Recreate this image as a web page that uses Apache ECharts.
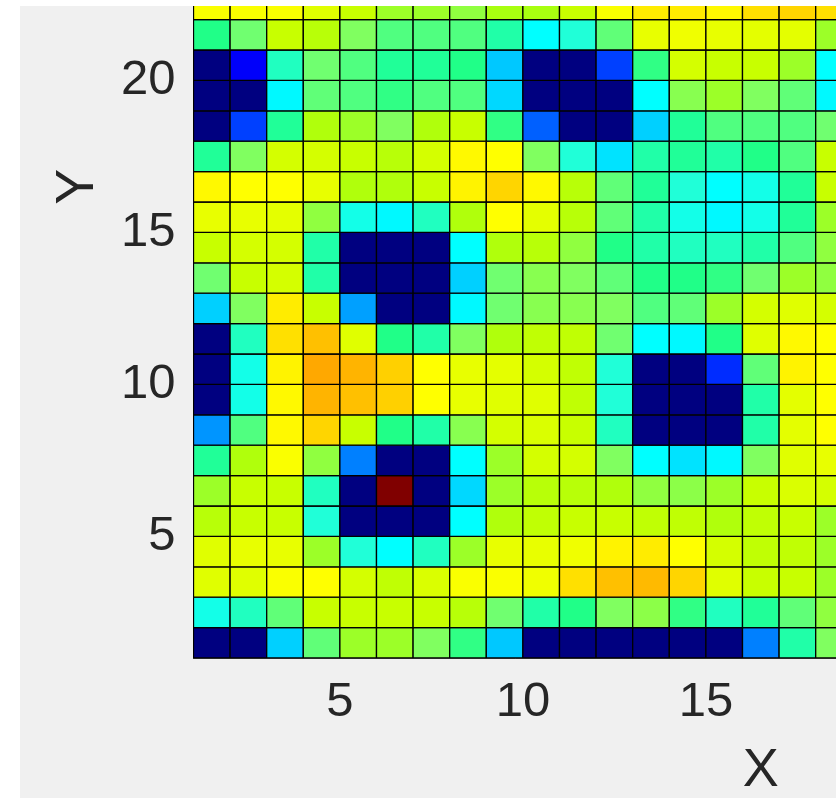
<!DOCTYPE html>
<html>
<head>
<meta charset="utf-8">
<script src="https://cdn.jsdelivr.net/npm/echarts@6/dist/echarts.min.js"></script>
<style>html,body{margin:0;padding:0;background:#fff}#c{width:836px;height:801px}</style>
</head>
<body>
<div id="c"></div>
<script>
// Column lower-left x vertices and row lower-left y vertices (pcolor style)
const xCells = [1,2,3,4,5,6,7,8,9,10,11,12,13,14,15,16,17,18];
const xTicks = [5, 10, 15];
const yTicks = [5, 10, 15, 20];
// colour values (jet-like scale 0..1), one array per row, columns 1..18
const row01 = [0,0,0.33,0.48,0.54,0.54,0.51,0.45,0.32,0,0,0,0,0,0,0.25,0.42,0.51];
const row02 = [0.39,0.41,0.48,0.57,0.57,0.57,0.57,0.56,0.49,0.42,0.44,0.51,0.525,0.45,0.41,0.43,0.48,0.53];
const row03 = [0.59,0.59,0.62,0.625,0.58,0.565,0.585,0.62,0.62,0.61,0.65,0.68,0.685,0.66,0.59,0.57,0.57,0.54];
const row04 = [0.59,0.60,0.60,0.54,0.40,0.375,0.41,0.54,0.60,0.60,0.61,0.635,0.64,0.625,0.58,0.565,0.565,0.54];
const row05 = [0.56,0.57,0.57,0.40,0,0,0,0.375,0.555,0.565,0.57,0.57,0.565,0.565,0.555,0.565,0.57,0.54];
const row06 = [0.54,0.57,0.57,0.41,0,1,0,0.34,0.54,0.56,0.56,0.555,0.53,0.525,0.54,0.57,0.585,0.58];
const row07 = [0.43,0.555,0.62,0.53,0.25,0,0,0.375,0.54,0.58,0.58,0.51,0.375,0.35,0.37,0.51,0.59,0.60];
const row08 = [0.27,0.47,0.63,0.66,0.57,0.44,0.42,0.52,0.58,0.585,0.57,0.41,0,0,0,0.42,0.595,0.625];
const row09 = [0,0.39,0.63,0.69,0.68,0.665,0.625,0.60,0.59,0.59,0.565,0.40,0,0,0,0.42,0.595,0.625];
const row10 = [0,0.39,0.635,0.70,0.69,0.665,0.625,0.60,0.595,0.58,0.565,0.40,0,0,0.17,0.48,0.635,0.625];
const row11 = [0,0.41,0.65,0.68,0.59,0.44,0.42,0.51,0.555,0.565,0.565,0.49,0.375,0.37,0.44,0.59,0.63,0.625];
const row12 = [0.33,0.51,0.64,0.57,0.28,0,0,0.37,0.49,0.52,0.52,0.51,0.47,0.48,0.54,0.58,0.59,0.58];
const row13 = [0.49,0.57,0.58,0.42,0,0,0,0.33,0.49,0.52,0.51,0.48,0.44,0.44,0.45,0.49,0.54,0.53];
const row14 = [0.57,0.58,0.58,0.42,0,0,0,0.375,0.555,0.56,0.53,0.44,0.42,0.41,0.41,0.42,0.47,0.53];
const row15 = [0.60,0.60,0.595,0.53,0.39,0.37,0.41,0.555,0.625,0.595,0.56,0.48,0.42,0.39,0.37,0.39,0.43,0.54];
const row16 = [0.63,0.625,0.625,0.60,0.555,0.555,0.57,0.635,0.66,0.63,0.56,0.48,0.43,0.40,0.375,0.39,0.43,0.57];
const row17 = [0.43,0.51,0.58,0.58,0.57,0.56,0.58,0.63,0.625,0.51,0.40,0.35,0.42,0.43,0.42,0.44,0.47,0.57];
const row18 = [0,0.19,0.43,0.555,0.54,0.51,0.555,0.57,0.45,0.22,0,0,0.33,0.43,0.47,0.47,0.47,0.49];
const row19 = [0,0,0.37,0.48,0.47,0.45,0.47,0.47,0.34,0,0,0,0.375,0.52,0.54,0.51,0.48,0.37];
const row20 = [0,0.12,0.41,0.49,0.47,0.43,0.43,0.44,0.32,0,0,0.19,0.45,0.58,0.57,0.57,0.54,0.375];
const row21 = [0.44,0.49,0.57,0.56,0.51,0.47,0.47,0.47,0.42,0.375,0.40,0.48,0.60,0.61,0.60,0.595,0.595,0.54];
const row22 = [0.62,0.62,0.62,0.59,0.57,0.54,0.54,0.53,0.55,0.55,0.57,0.62,0.64,0.64,0.63,0.65,0.66,0.65];

const rows = [row01,row02,row03,row04,row05,row06,row07,row08,row09,row10,row11,row12,row13,row14,row15,row16,row17,row18,row19,row20,row21,row22];
const data = [];
rows.forEach((r, i) => r.forEach((v, j) => data.push([xCells[j], i + 1, v])));

// jet-like colour scale as seen in the picture (stop position, rgb)
const cmapStops = [
  [0.00,[0,0,128]],[0.125,[0,0,255]],[0.19,[0,64,255]],[0.25,[0,128,255]],[0.28,[0,160,255]],
  [0.32,[0,200,255]],[0.34,[0,216,255]],[0.375,[0,255,255]],[0.40,[32,255,216]],[0.42,[32,255,168]],
  [0.44,[32,255,136]],[0.47,[80,255,128]],[0.49,[112,255,112]],[0.51,[128,255,96]],[0.53,[144,255,64]],
  [0.55,[168,255,16]],[0.57,[200,255,0]],[0.59,[224,255,0]],[0.61,[240,255,0]],[0.625,[255,255,0]],
  [0.65,[255,224,0]],[0.68,[255,192,0]],[0.70,[255,168,0]],[0.875,[255,0,0]],[1.0,[128,0,0]]
];
function cmapAt(t) {
  for (let k = 1; k < cmapStops.length; k++) {
    const a = cmapStops[k - 1], b = cmapStops[k];
    if (t <= b[0] + 1e-9) {
      const f = (t - a[0]) / (b[0] - a[0]);
      const c = a[1].map((v, n) => Math.round(v + (b[1][n] - v) * f));
      return 'rgb(' + c.join(',') + ')';
    }
  }
  return 'rgb(128,0,0)';
}
const palette = [];
for (let k = 0; k <= 200; k++) palette.push(cmapAt(k / 200));

const FONT = '"Liberation Sans", Arial, Helvetica, sans-serif';
const TXT = '#262626';

const chart = echarts.init(document.getElementById('c'), null, {renderer: 'canvas'});
chart.setOption({
  backgroundColor: '#ffffff',
  animation: false,
  graphic: [
    {type: 'rect', z: -10, shape: {x: 20, y: 6, width: 816, height: 792}, style: {fill: '#f0f0f0'}, silent: true},
    {type: 'rect', z: 100, zlevel: 1, shape: {x: 0, y: 0, width: 836, height: 6}, style: {fill: '#ffffff'}, silent: true}
  ],
  grid: {left: 193.5, top: 658 - 31 * 30.4, width: 31 * 36.6, height: 31 * 30.4, containLabel: false, outerBoundsMode: 'none'},
  visualMap: {type: 'continuous', show: false, min: 0, max: 1, dimension: 2, seriesIndex: 0, inRange: {color: palette}},
  xAxis: {
    type: 'value', min: 1, max: 32,
    name: 'X', nameLocation: 'middle', nameGap: 86,
    nameTextStyle: {fontSize: 54, color: TXT, fontFamily: FONT},
    axisLine: {show: true, lineStyle: {color: TXT, width: 1}},
    axisTick: {show: false},
    splitLine: {show: false},
    axisLabel: {customValues: xTicks, fontSize: 49, color: TXT, fontFamily: FONT, margin: 20}
  },
  yAxis: {
    type: 'value', min: 1, max: 32,
    name: 'Y', nameLocation: 'middle', nameGap: 88, nameRotate: 90,
    nameTextStyle: {fontSize: 54, color: TXT, fontFamily: FONT},
    axisLine: {show: true, lineStyle: {color: TXT, width: 1}},
    axisTick: {show: false},
    splitLine: {show: false},
    axisLabel: {customValues: yTicks, fontSize: 49, color: TXT, fontFamily: FONT, margin: 18}
  },
  series: [{
    type: 'custom',
    coordinateSystem: 'cartesian2d',
    clip: true,
    encode: {x: 0, y: 1},
    data: data,
    renderItem: function (params, api) {
      const x = api.value(0), y = api.value(1);
      const p0 = api.coord([x, y + 1]);
      const p1 = api.coord([x + 1, y]);
      return {
        type: 'rect',
        shape: {x: p0[0], y: p0[1], width: p1[0] - p0[0], height: p1[1] - p0[1]},
        style: {fill: api.visual('color'), stroke: '#000000', lineWidth: 1.3}
      };
    }
  }]
});
</script>
</body>
</html>
